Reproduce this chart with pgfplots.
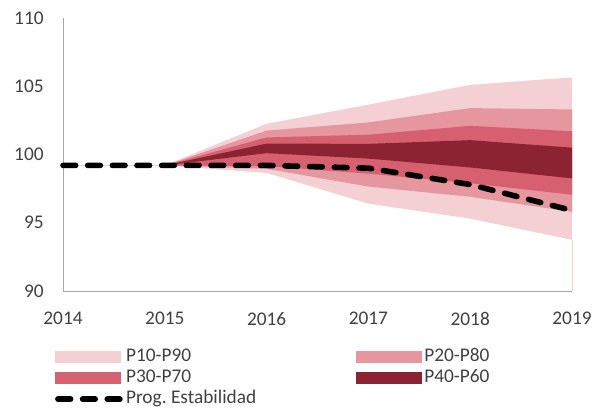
\documentclass[border=0pt]{standalone}
\usepackage{pgfplots}
\pgfplotsset{compat=1.18}
\usepackage{fontspec}
\setmainfont{Carlito}
\frenchspacing
\definecolor{cA}{RGB}{244,208,213}
\definecolor{cB}{RGB}{229,150,158}
\definecolor{cC}{RGB}{214,96,112}
\definecolor{cD}{RGB}{139,35,50}
\definecolor{txt}{RGB}{64,64,64}
\definecolor{axl}{RGB}{166,166,166}
\begin{document}
\begin{tikzpicture}
\begin{axis}[
  scale only axis,
  width=381.75pt, height=204.75pt,
  xmin=2014, xmax=2019, ymin=90, ymax=110,
  xtick={2014,2015,2016,2017,2018,2019},
  ytick={90,95,100,105,110},
  axis x line*=bottom, axis y line*=left,
  axis line style={draw=axl, line width=0.75pt, -},
  major tick length=0pt,
  /pgf/number format/assume math mode=true,
  /pgf/number format/1000 sep={},
  tick label style={font=\fontsize{14.5}{17}\selectfont, text=txt},
  yticklabel style={xshift=-11pt},
  xticklabel style={yshift=-12.5pt},
  clip=false,
  legend columns=2,
  legend cell align=left,
  legend style={draw=none, fill=none, inner sep=0pt,
    at={(-0.016,-0.2)}, anchor=north west,
    font=\fontsize{14.5}{17}\selectfont, text=txt,
    nodes={inner ysep=1pt, inner xsep=2pt, text height=10.5pt, text depth=3.5pt},
    /tikz/column 2/.style={column sep=73pt}},
]
\addplot[fill=cA, draw=none,
  legend image code/.code={\fill[cA] (0pt,-4.5pt) rectangle (49pt,4.5pt);}]
  coordinates {(2014,99.2) (2015,99.2) (2016,102.25) (2017,103.65) (2018,105.1) (2019,105.65)
               (2019,93.75) (2018,95.3) (2017,96.4) (2016,98.65) (2015,99.2) (2014,99.2)} -- cycle;
\addlegendentry{P10-P90}
\addplot[fill=cB, draw=none,
  legend image code/.code={\fill[cB] (0pt,-4.5pt) rectangle (49pt,4.5pt);}]
  coordinates {(2014,99.2) (2015,99.2) (2016,101.75) (2017,102.35) (2018,103.4) (2019,103.3)
               (2019,95.8) (2018,96.9) (2017,97.65) (2016,98.95) (2015,99.2) (2014,99.2)} -- cycle;
\addlegendentry{P20-P80}
\addplot[fill=cC, draw=none,
  legend image code/.code={\fill[cC] (0pt,-4.5pt) rectangle (49pt,4.5pt);}]
  coordinates {(2014,99.2) (2015,99.2) (2016,101.25) (2017,101.45) (2018,102.1) (2019,101.7)
               (2019,97.05) (2018,97.9) (2017,98.6) (2016,99.15) (2015,99.2) (2014,99.2)} -- cycle;
\addlegendentry{P30-P70}
\addplot[fill=cD, draw=none,
  legend image code/.code={\fill[cD] (0pt,-4.5pt) rectangle (49pt,4.5pt);}]
  coordinates {(2014,99.2) (2015,99.2) (2016,100.8) (2017,100.78) (2018,101.05) (2019,100.5)
               (2019,98.25) (2018,99.05) (2017,99.7) (2016,100.1) (2015,99.2) (2014,99.2)} -- cycle;
\addlegendentry{P40-P60}
\addplot[draw=cA, line width=0.75pt, forget plot] coordinates {(2019,90) (2019,93.75)};
\addplot[draw=cA, line width=0.75pt, forget plot] coordinates {(2014,99.2) (2015,99.2)};
\addplot[draw=black, line width=4.2pt, line cap=round, dash pattern=on 9.5pt off 9pt,
  legend image code/.code={\draw[black, line width=4.2pt, line cap=round, dash pattern=on 9.5pt off 9pt] (2pt,0pt) -- (49pt,0pt);}]
  coordinates {(2014,99.2) (2015,99.2) (2016,99.2) (2017,99.0) (2018,97.8) (2019,95.9)};
\addlegendentry{Prog. Estabilidad}
\end{axis}
\path ([xshift=-47.25pt,yshift=-91.5pt]current axis.south west) rectangle ([xshift=21pt,yshift=13.5pt]current axis.north east);
\end{tikzpicture}
\end{document}
